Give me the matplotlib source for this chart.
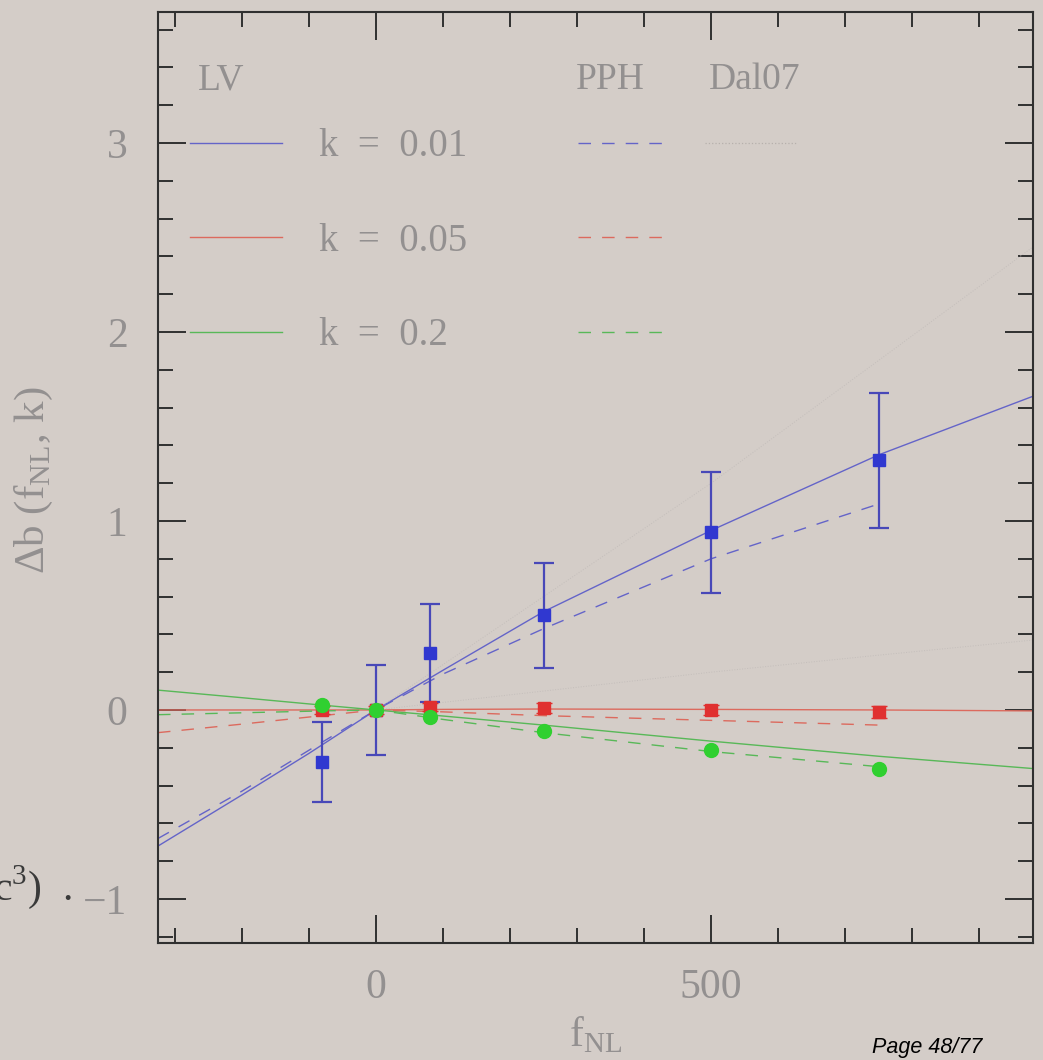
import matplotlib
matplotlib.use("Agg")
import matplotlib.pyplot as plt
from matplotlib.lines import Line2D
from matplotlib.ticker import MultipleLocator

# measured points (f_NL, Delta b) for the three k bins
fnl = [-80, 0, 80, 250, 500, 750]
b_k001 = [-0.275, 0.0, 0.30, 0.50, 0.94, 1.32]
e_k001 = [0.21, 0.24, 0.26, 0.28, 0.32, 0.355]
b_k005 = [0.0, 0.0, 0.015, 0.01, 0.0, -0.01]
e_k005 = [0.02, 0.02, 0.02, 0.025, 0.025, 0.03]
b_k02 = [0.026, 0.0, -0.035, -0.11, -0.21, -0.31]
e_k02 = [0.01, 0.01, 0.01, 0.01, 0.01, 0.01]

# LV model curves
lv_x = [-325, -200, -100, 0, 100, 250, 500, 750, 980]
lv_k001 = [-0.72, -0.45, -0.23, 0.0, 0.21, 0.52, 0.95, 1.35, 1.66]
lv_k005 = [0.0, 0.0, 0.0, 0.0, 0.003, 0.005, 0.003, 0.0, -0.005]
lv_k02 = [0.105, 0.065, 0.032, 0.0, -0.032, -0.08, -0.165, -0.245, -0.31]

# PPH model curves
pph_x = [-325, -200, -80, 0, 100, 250, 500, 750]
pph_k001 = [-0.68, -0.43, -0.17, 0.0, 0.19, 0.43, 0.80, 1.09]
pph_k005 = [-0.12, -0.075, -0.03, 0.0, -0.01, -0.03, -0.055, -0.08]
pph_k02 = [-0.025, -0.015, -0.005, 0.0, -0.05, -0.12, -0.22, -0.30]

# Dal07 curves (barely visible in the original)
dal_x = [0, 250, 500, 750, 980]
dal_k001 = [0.0, 0.6, 1.2, 1.85, 2.45]
dal_k005 = [0.0, 0.1, 0.2, 0.29, 0.37]

k_labels = ["k  =  0.01", "k  =  0.05", "k  =  0.2"]
headers = ["LV", "PPH", "Dal07"]

bg = "#d4cdc8"
txt = "#939090"
blue_l, red_l, green_l = "#6464c8", "#dc6a5e", "#58b858"
blue_m, red_m, green_m = "#3038d0", "#e03030", "#30d030"
dots = "#c4bebb"
serif = ["Liberation Serif", "DejaVu Serif"]

plt.rcParams["font.family"] = serif
plt.rcParams["mathtext.fontset"] = "custom"
plt.rcParams["mathtext.rm"] = "Liberation Serif"

fig = plt.figure(figsize=(10.43, 10.60), dpi=100, facecolor=bg)
ax = fig.add_axes([158 / 1043, 1 - 943 / 1060, 875 / 1043, 931 / 1060])
ax.set_facecolor(bg)

lw = 1.0
dash = (9, 8)
ax.plot(lv_x, lv_k001, color=blue_l, lw=lw)
ax.plot(lv_x, lv_k005, color=red_l, lw=lw)
ax.plot(lv_x, lv_k02, color=green_l, lw=lw)
ax.plot(pph_x, pph_k001, color=blue_l, lw=lw, dashes=dash)
ax.plot(pph_x, pph_k005, color=red_l, lw=lw, dashes=dash)
ax.plot(pph_x, pph_k02, color=green_l, lw=lw, dashes=dash)
ax.plot(dal_x, dal_k001, color=dots, lw=0.7, ls=":")
ax.plot(dal_x, dal_k005, color=dots, lw=0.7, ls=":")

ax.errorbar(fnl, b_k001, yerr=e_k001, fmt="s", color=blue_m, ms=8,
            ecolor="#4848b8", elinewidth=1.6, capsize=7, capthick=1.6, zorder=4)
ax.errorbar(fnl, b_k005, yerr=e_k005, fmt="s", color=red_m, ms=9,
            ecolor=red_m, elinewidth=1.5, capsize=6, zorder=5)
ax.errorbar(fnl, b_k02, yerr=e_k02, fmt="o", color=green_m, ms=10,
            ecolor=green_m, elinewidth=1.5, capsize=0, zorder=6)

ax.set_xlim(-325, 980)
ax.set_ylim(-1.233, 3.693)
ax.xaxis.set_major_locator(MultipleLocator(500))
ax.xaxis.set_minor_locator(MultipleLocator(100))
ax.yaxis.set_major_locator(MultipleLocator(1))
ax.yaxis.set_minor_locator(MultipleLocator(0.2))
ax.tick_params(which="both", direction="in", top=True, right=True,
               color="#303030", width=1.4, labelsize=30, labelcolor=txt)
ax.tick_params(which="major", length=20)
ax.tick_params(which="minor", length=11)
ax.tick_params(axis="y", pad=22)
ax.tick_params(axis="x", pad=18)
for s in ax.spines.values():
    s.set_color("#303030")
    s.set_linewidth(1.5)

ax.set_ylabel("Δb (f$_{\\rm NL}$, k)", fontsize=31, color=txt)
ax.yaxis.set_label_coords(-0.118, 0.497)
ax.set_xlabel("f$_{\\rm NL}$", fontsize=30, color=txt)
ax.xaxis.set_label_coords(0.5, -0.077)

# three legend blocks: LV (with labels), PPH, Dal07
fs = 28
lv_h = [Line2D([], [], color=c, lw=lw) for c in (blue_l, red_l, green_l)]
pph_h = [Line2D([], [], color=c, lw=lw, dashes=dash) for c in (blue_l, red_l, green_l)]
dal_h = [Line2D([], [], color="#b6b0ac", lw=0.9, ls=":")]
common = dict(frameon=False, loc="upper left", borderpad=0, borderaxespad=0,
              handlelength=2.35, handletextpad=0.95, labelspacing=1.48,
              fontsize=fs, labelcolor=txt)
leg1 = ax.legend(lv_h, k_labels, bbox_to_anchor=(0.037, 0.875), **common)
ax.add_artist(leg1)
leg2 = ax.legend(pph_h, ["", "", ""], bbox_to_anchor=(0.48, 0.875), **common)
ax.add_artist(leg2)
ax.legend(dal_h, [""], bbox_to_anchor=(0.625, 0.875), **common)

for h, xh in zip(headers, (0.046, 0.478, 0.63)):
    ax.text(xh, 0.917, h, transform=ax.transAxes, fontsize=27, color=txt,
            va="baseline")

# slide decorations
fig.text(72 / 1043, 1 - 900 / 1060, "c$^3$)  .", ha="right", va="baseline",
         fontsize=30, color="#3a3a3a")
fig.text(872 / 1043, 1 - 1053 / 1060, "Page 48/77", fontsize=15.5,
         style="italic", family=["Liberation Sans", "DejaVu Sans"], color="black")

fig.savefig("out.png", dpi=100, facecolor=bg)
